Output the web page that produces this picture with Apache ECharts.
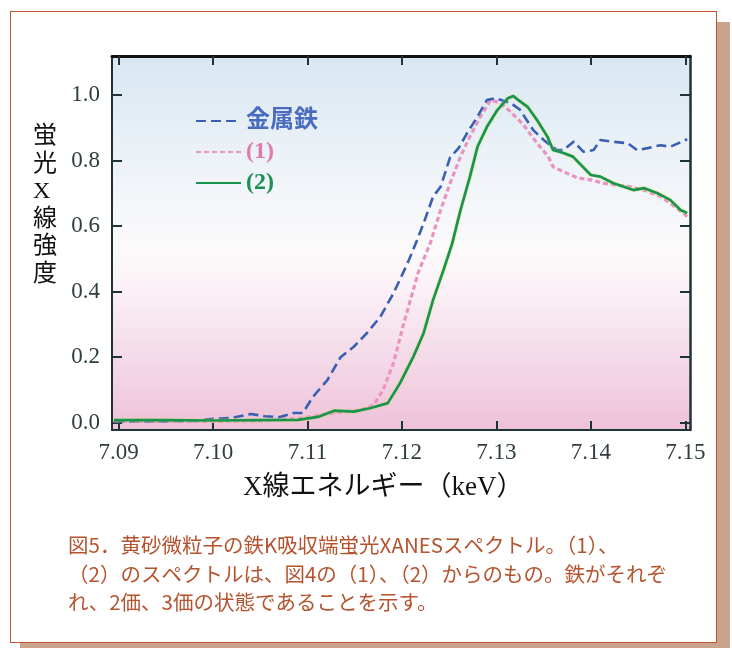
<!DOCTYPE html>
<html><head><meta charset="utf-8">
<script src="https://cdn.jsdelivr.net/npm/echarts@6/dist/echarts.min.js"></script>
<style>
html,body{margin:0;padding:0;background:#fff;}
#shadow{position:absolute;left:20px;top:22px;width:710px;height:626px;background:#c9a38d;}
#frame{position:absolute;left:10px;top:11px;width:705px;height:630px;background:#fff;border:1.5px solid #c0552f;}
#chart{position:absolute;left:0;top:0;width:732px;height:648px;}
</style></head>
<body>
<div id="shadow"></div><div id="frame"></div>
<div id="chart"></div>
<script>
// ---- data ----
const xTicks = [7.09, 7.10, 7.11, 7.12, 7.13, 7.14, 7.15];
const yTicks = [0.0, 0.2, 0.4, 0.6, 0.8, 1.0];
const seriesNames = ['金属鉄', '(1)', '(2)'];

const metalE = [7.0895,7.092,7.095,7.098,7.100,7.102,7.104,7.1055,7.107,7.1085,7.1095,7.1106,7.1121,7.1135,7.1149,7.1163,7.1177,7.1191,7.1206,7.1216,7.1223,7.1233,7.1241,7.1251,7.126,7.1269,7.128,7.129,7.1299,7.1315,7.1325,7.1339,7.135,7.1364,7.1371,7.1382,7.1392,7.1403,7.141,7.1421,7.1439,7.1449,7.146,7.1474,7.1484,7.1502];
const metalI = [0.005,0.005,0.005,0.006,0.012,0.015,0.027,0.02,0.017,0.03,0.03,0.08,0.13,0.20,0.232,0.274,0.323,0.395,0.487,0.557,0.609,0.69,0.72,0.81,0.838,0.884,0.934,0.985,0.99,0.976,0.955,0.893,0.863,0.832,0.832,0.858,0.827,0.832,0.863,0.858,0.853,0.832,0.838,0.847,0.842,0.865];

const s1E = [7.0895,7.095,7.100,7.105,7.1093,7.1128,7.1156,7.117,7.118,7.1191,7.1202,7.1212,7.1217,7.123,7.1241,7.1251,7.1262,7.1272,7.1283,7.1294,7.1304,7.1315,7.1329,7.1343,7.1355,7.136,7.1375,7.1386,7.14,7.1413,7.1428,7.1442,7.1456,7.1474,7.1487,7.1502];
const s1I = [0.005,0.004,0.004,0.006,0.014,0.03,0.039,0.054,0.10,0.182,0.304,0.405,0.457,0.548,0.649,0.731,0.812,0.873,0.934,0.985,0.976,0.949,0.908,0.853,0.812,0.781,0.761,0.747,0.741,0.731,0.725,0.72,0.71,0.69,0.664,0.629];

const s2E = [7.0895,7.095,7.100,7.105,7.109,7.1111,7.1128,7.1149,7.1167,7.1185,7.1198,7.1212,7.1223,7.1233,7.1244,7.1253,7.1262,7.1272,7.128,7.129,7.1301,7.1312,7.1318,7.1323,7.1333,7.1343,7.1354,7.136,7.1371,7.1381,7.14,7.141,7.1424,7.1445,7.1456,7.147,7.1484,7.1495,7.1502];
const s2I = [0.008,0.008,0.007,0.008,0.009,0.018,0.037,0.034,0.045,0.06,0.121,0.201,0.274,0.375,0.466,0.545,0.649,0.751,0.842,0.903,0.954,0.99,0.997,0.985,0.964,0.924,0.873,0.832,0.823,0.812,0.756,0.751,0.731,0.71,0.716,0.701,0.68,0.649,0.64];

const yName = '蛍光X線強度';
const xName = 'X線エネルギー（keV）';
const captionLines = [
  '図5．黄砂微粒子の鉄K吸収端蛍光XANESスペクトル。（1）、',
  '（2）のスペクトルは、図4の（1）、（2）からのもの。鉄がそれぞ',
  'れ、2価、3価の状態であることを示す。'
];

const zip = (a, b) => a.map((v, i) => [v, b[i]]);

const chart = echarts.init(document.getElementById('chart'), null, {renderer: 'canvas'});
const axisDark = '#1f3434';
const tickFont = {fontFamily: '"Liberation Serif", "DejaVu Serif", serif', fontSize: 23, color: '#2f3d3f'};
const mixFont = '"Liberation Serif", "Noto Sans CJK JP", serif';

const option = {
  backgroundColor: 'transparent',
  animation: false,
  grid: {
    left: 112, right: 42, top: 56, bottom: 218,
    outerBoundsMode: 'none', containLabel: false,
    show: true, borderWidth: 0,
    backgroundColor: {type: 'linear', x: 0, y: 0, x2: 0, y2: 1, colorStops: [
      {offset: 0, color: '#d9e7f2'},
      {offset: 0.3, color: '#eef3f8'},
      {offset: 0.52, color: '#fcfafb'},
      {offset: 0.62, color: '#faf1f6'},
      {offset: 1, color: '#eec2da'}
    ]}
  },
  xAxis: [{
    type: 'value', min: 7.0893, max: 7.1505, position: 'bottom',
    axisLine: {show: true, onZero: false, lineStyle: {color: axisDark, width: 2}},
    axisTick: {show: true, inside: true, length: 9, customValues: xTicks, lineStyle: {color: axisDark, width: 2}},
    axisLabel: {show: true, customValues: xTicks, margin: 11, formatter: v => v.toFixed(2), ...tickFont},
    splitLine: {show: false}
  }, {
    type: 'value', min: 7.0893, max: 7.1505, position: 'top',
    axisLine: {show: true, onZero: false, lineStyle: {color: '#111', width: 3}},
    axisTick: {show: true, inside: true, length: 9, customValues: xTicks, lineStyle: {color: axisDark, width: 2}},
    axisLabel: {show: false},
    splitLine: {show: false}
  }],
  yAxis: [{
    type: 'value', min: -0.022, max: 1.119, position: 'left',
    axisLine: {show: true, onZero: false, lineStyle: {color: axisDark, width: 2}},
    axisTick: {show: true, inside: true, length: 10, customValues: yTicks, lineStyle: {color: axisDark, width: 2}},
    axisLabel: {show: true, customValues: yTicks, margin: 12, formatter: v => v.toFixed(1), ...tickFont},
    splitLine: {show: false}
  }, {
    type: 'value', min: -0.022, max: 1.119, position: 'right',
    axisLine: {show: true, onZero: false, lineStyle: {color: axisDark, width: 2.5}},
    axisTick: {show: true, inside: true, length: 10, customValues: yTicks, lineStyle: {color: axisDark, width: 2}},
    axisLabel: {show: false},
    splitLine: {show: false}
  }],
  legend: {
    show: true,
    orient: 'vertical', left: 190, top: 104,
    itemWidth: 45, itemHeight: 14, itemGap: 7,
    itemStyle: {color: 'rgba(0,0,0,0)', borderWidth: 0, opacity: 0},
    textStyle: {fontSize: 24, fontWeight: 'bold', lineHeight: 24, fontFamily: mixFont},
    data: [
      {name: seriesNames[0], textStyle: {color: '#4a6cc0'}},
      {name: seriesNames[1], textStyle: {color: '#e07aa8'}},
      {name: seriesNames[2], textStyle: {color: '#1a9050'}}
    ]
  },
  series: [
    {name: seriesNames[0], type: 'line', data: zip(metalE, metalI), showSymbol: false, symbol: 'none',
     lineStyle: {color: '#3a5fb2', width: 2.6, type: [10, 5]}, itemStyle: {color: '#3a5fb2'}, z: 3},
    {name: seriesNames[1], type: 'line', data: zip(s1E, s1I), showSymbol: false, symbol: 'none',
     lineStyle: {color: '#eb93c0', width: 3.2, type: [5, 3]}, itemStyle: {color: '#eb93c0'}, z: 2},
    {name: seriesNames[2], type: 'line', data: zip(s2E, s2I), showSymbol: false, symbol: 'none',
     lineStyle: {color: '#17954f', width: 2.7, shadowColor: 'rgba(230,220,90,0.8)', shadowBlur: 2}, itemStyle: {color: '#17954f'}, z: 4}
  ],
  graphic: [
    {type: 'text', left: 33, top: 123,
     style: {text: yName.split('').join('\n'), fontSize: 24, lineHeight: 27.5, fill: '#111',
       fontFamily: mixFont, align: 'center', width: 26}},
    {type: 'text', left: 243, top: 474,
     style: {text: xName, fontSize: 27, fill: '#111', fontFamily: mixFont}},
    {type: 'text', left: 68, top: 531,
     style: {text: captionLines.join('\n'), fontSize: 20.5, lineHeight: 28.5, fill: '#b5532e',
       fontFamily: '"Noto Sans CJK JP", sans-serif'}}
  ]
};
chart.setOption(option);
</script>
</body></html>
